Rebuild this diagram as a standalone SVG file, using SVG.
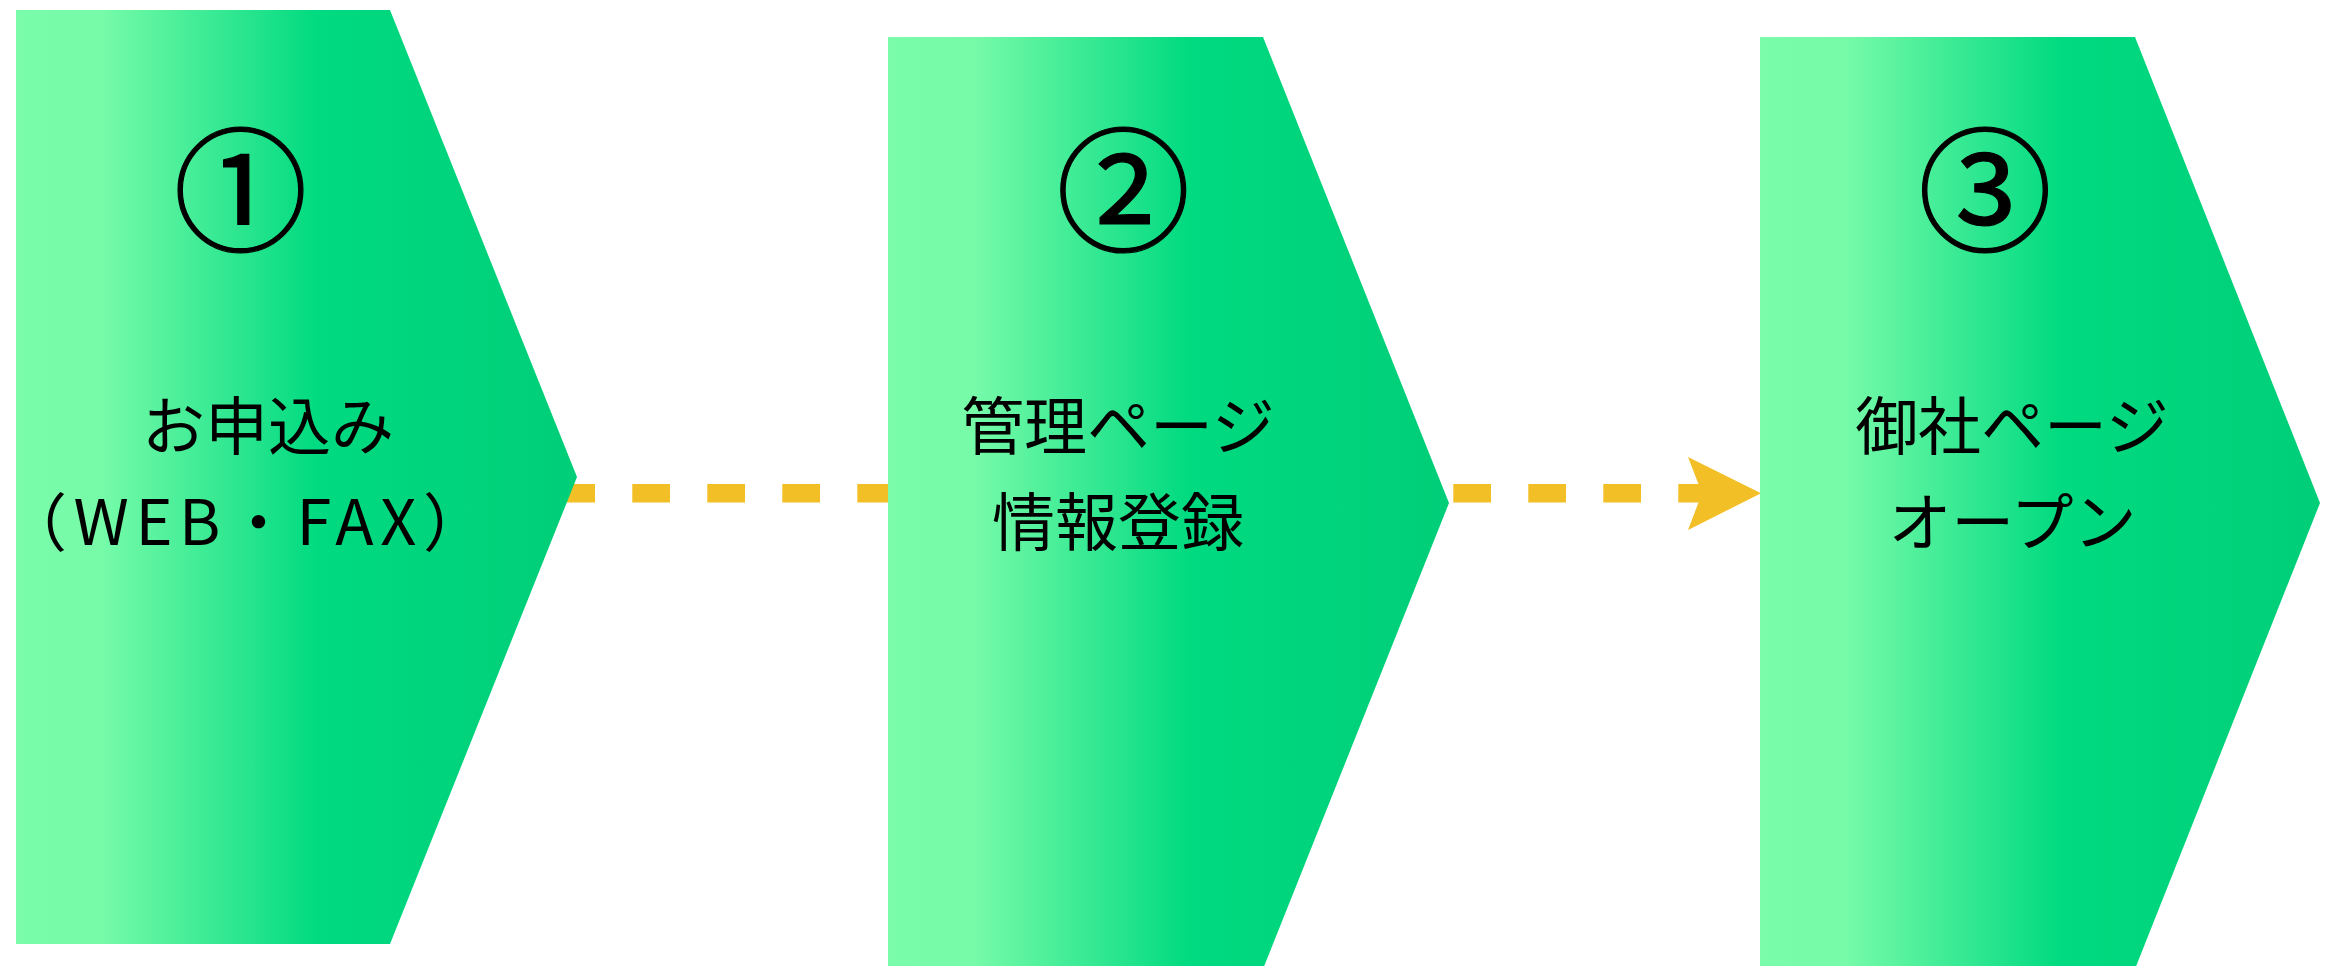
<svg xmlns="http://www.w3.org/2000/svg" width="2328" height="966" viewBox="0 0 2328 966">
  <style>
    .num { font-family: "Noto Sans CJK JP", "Noto Sans", sans-serif; font-size: 134px; font-weight: 400; fill: #000; text-anchor: middle; }
    .lbl { font-family: "Noto Sans CJK JP", "Noto Sans", sans-serif; font-size: 63px; fill: #000; text-anchor: middle; }
    .dash { stroke: #F2BF26; stroke-width: 18.5; stroke-dasharray: 37.7 37.3; fill: none; }
    .head { fill: #F2BF26; }
    .shape { fill: url(#g); }
  </style>
  <defs>
    <linearGradient id="g" x1="0" y1="0" x2="1" y2="0">
      <stop offset="0" stop-color="#7AFCAA"/>
      <stop offset="0.15" stop-color="#77FBA9"/>
      <stop offset="0.54" stop-color="#00DA80"/>
      <stop offset="1" stop-color="#00CE78"/>
    </linearGradient>
  </defs>
  <rect width="2328" height="966" fill="#fff"/>
  <g id="connectors">
    <line class="dash" x1="557.3" y1="493.3" x2="888" y2="493.3"/>
    <line class="dash" x1="1453.3" y1="493.3" x2="1704" y2="493.3"/>
    <polygon class="head" points="1761,493.3 1688,457 1702,493.3 1688,530"/>
  </g>
  <g id="step1">
    <polygon class="shape" points="16,10 390,10 577,477 390,944 16,944"/>
    <text class="num" x="240.5" y="241" stroke="#000" stroke-width="1.2">①</text>
    <text class="lbl" x="268" y="449">お申込み</text>
    <text class="lbl" x="245" y="545" textLength="482" lengthAdjust="spacing">（WEB・FAX）</text>
  </g>
  <g id="step2">
    <polygon class="shape" points="888,37 1263,37 1449,503 1263,969 888,969"/>
    <text class="num" x="1123.3" y="241" stroke="#000" stroke-width="1.2">②</text>
    <text class="lbl" x="1118" y="449">管理ページ</text>
    <text class="lbl" x="1118" y="545">情報登録</text>
  </g>
  <g id="step3">
    <polygon class="shape" points="1760,37 2135,37 2320,503 2135,969 1760,969"/>
    <text class="num" x="1985" y="241" stroke="#000" stroke-width="1.2">③</text>
    <text class="lbl" x="2012" y="449">御社ページ</text>
    <text class="lbl" x="2012.5" y="545">オープン</text>
  </g>
</svg>
